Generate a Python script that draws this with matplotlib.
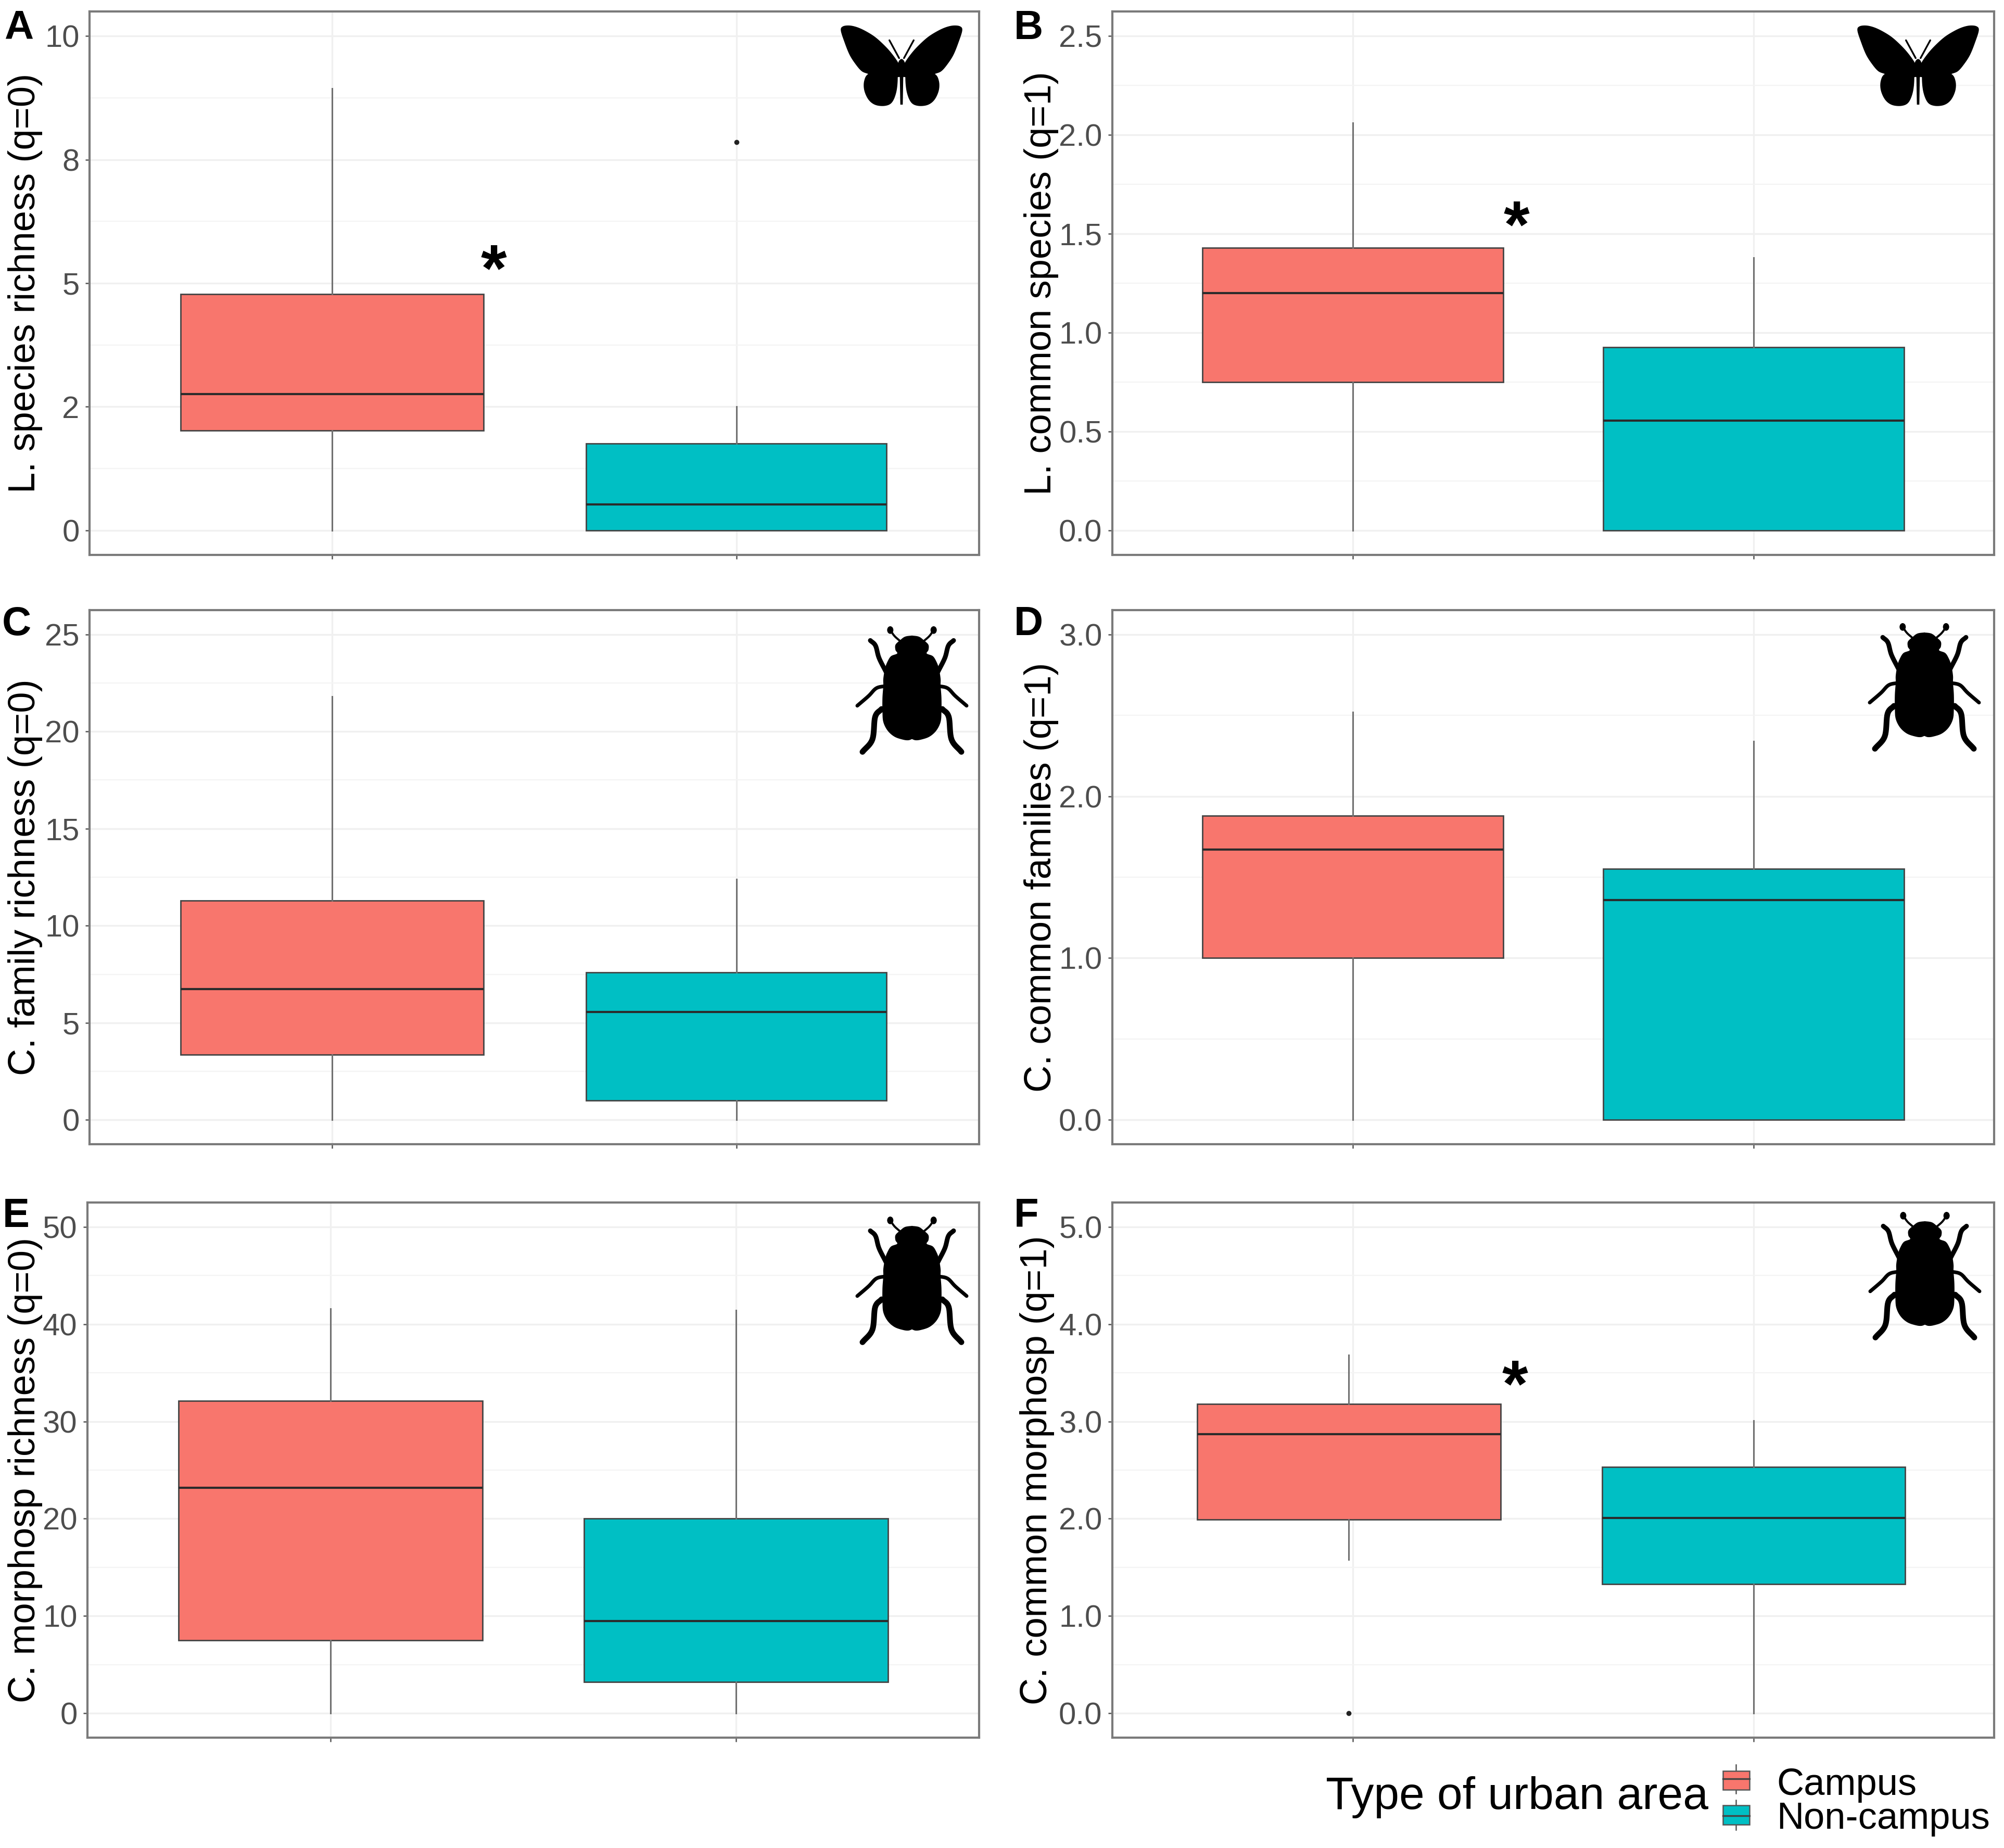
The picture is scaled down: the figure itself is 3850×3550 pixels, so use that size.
import numpy as np
import matplotlib
matplotlib.use("Agg")
import matplotlib.pyplot as plt
from matplotlib.patches import Polygon, Rectangle, Circle, Ellipse

plt.rcParams['font.family'] = ['Liberation Sans', 'DejaVu Sans']

W, H = 3850, 3550
CAMPUS = '#F8766D'
NONCAMPUS = '#00BFC4'

# box stats: [whisker low, q1, median, q3, whisker high]
A_campus = [0, 2.02, 2.76, 4.78, 8.94]
A_non = [0, 0, 0.52, 1.76, 2.5]
B_campus = [0, 0.75, 1.2, 1.43, 2.06]
B_non = [0, 0, 0.555, 0.925, 1.38]
C_campus = [0, 3.36, 6.73, 11.3, 21.8]
C_non = [0, 1.0, 5.55, 7.6, 12.4]
D_campus = [0, 1.0, 1.67, 1.88, 2.52]
D_non = [0, 0, 1.36, 1.55, 2.34]
E_campus = [0, 7.5, 23.2, 32.1, 41.6]
E_non = [0, 3.2, 9.5, 20.0, 41.4]
F_campus = [1.58, 1.99, 2.87, 3.18, 3.68]
F_non = [0, 1.33, 2.01, 2.53, 3.01]

# outliers
A_non_out = [7.86]
F_campus_out = [0.0]

A_ticks, A_labels = [0, 2.5, 5, 7.5, 10], ['0', '2', '5', '8', '10']
B_ticks, B_labels = [0, .5, 1, 1.5, 2, 2.5], ['0.0', '0.5', '1.0', '1.5', '2.0', '2.5']
C_ticks, C_labels = [0, 5, 10, 15, 20, 25], ['0', '5', '10', '15', '20', '25']
D_ticks, D_labels = [0, 1, 2, 3], ['0.0', '1.0', '2.0', '3.0']
E_ticks, E_labels = [0, 10, 20, 30, 40, 50], ['0', '10', '20', '30', '40', '50']
F_ticks, F_labels = [0, 1, 2, 3, 4, 5], ['0.0', '1.0', '2.0', '3.0', '4.0', '5.0']

ylabels = ['L. species richness (q=0)', 'L. common species (q=1)',
           'C. family richness (q=0)', 'C. common families (q=1)',
           'C. morphosp richness (q=0)', 'C. common morphosp (q=1)']
letters = ['A', 'B', 'C', 'D', 'E', 'F']

panels = [
    dict(c=A_campus, n=A_non, cout=[], nout=A_non_out, t=A_ticks, l=A_labels, ylim=(-.5, 10.5), w=.75, wn=.743),
    dict(c=B_campus, n=B_non, cout=[], nout=[], t=B_ticks, l=B_labels, ylim=(-.125, 2.625), w=.75, wn=.75),
    dict(c=C_campus, n=C_non, cout=[], nout=[], t=C_ticks, l=C_labels, ylim=(-1.25, 26.25), w=.75, wn=.743),
    dict(c=D_campus, n=D_non, cout=[], nout=[], t=D_ticks, l=D_labels, ylim=(-.15, 3.15), w=.75, wn=.75),
    dict(c=E_campus, n=E_non, cout=[], nout=[], t=E_ticks, l=E_labels, ylim=(-2.5, 52.5), w=.75, wn=.75),
    dict(c=F_campus, n=F_non, cout=F_campus_out, nout=[], t=F_ticks, l=F_labels, ylim=(-.25, 5.25), w=.757, wn=.757),
]
lefts = [172, 2137, 172, 2137, 168, 2137]
rights = [1881, 3831, 1881, 3831, 1881, 3831]
rows = [(22, 1066), (1172, 2198), (2310, 3338)]
label_x = [49, 2001, 49, 2001, 49, 1993]
letter_x = [8, 1948, 4, 1948, 5, 1948]
letter_base = [75, 75, 1220, 1220, 2357, 2357]

fig = plt.figure(figsize=(W / 100, H / 100), dpi=100, facecolor='white')

for i, p in enumerate(panels):
    x0, x1 = lefts[i], rights[i]
    y0, y1 = rows[i // 2]
    ax = fig.add_axes([x0 / W, 1 - y1 / H, (x1 - x0) / W, (y1 - y0) / H])
    ax.set_xlim(0.4, 2.6)
    ax.set_ylim(*p['ylim'])
    ax.set_axisbelow(True)
    for s in ax.spines.values():
        s.set_color('#7A7A7A')
        s.set_linewidth(3)
    t = np.array(p['t'], float)
    minor = (t[:-1] + t[1:]) / 2
    ax.set_yticks(t, p['l'])
    ax.set_yticks(minor, minor=True)
    ax.set_xticks([1, 2], ['', ''])
    ax.tick_params(axis='y', which='major', labelsize=43, labelcolor='#4D4D4D', color='#555555',
                   length=6, width=1.8, pad=8)
    ax.tick_params(axis='y', which='minor', length=0)
    ax.tick_params(axis='x', length=6, width=1.8, color='#555555')
    ax.grid(True, which='major', color='#F0F0F0', lw=2.4)
    ax.grid(True, which='minor', axis='y', color='#F4F4F4', lw=1.6)

    stats = []
    for v, out in ((p['c'], p['cout']), (p['n'], p['nout'])):
        stats.append(dict(whislo=v[0], q1=v[1], med=v[2], q3=v[3], whishi=v[4], fliers=out))
    pos = [0.99, 2.0] if i == 5 else [1, 2]
    bp = ax.bxp(stats, positions=pos, widths=[p['w'], p['wn']], patch_artist=True, showcaps=False,
                manage_ticks=False,
                boxprops=dict(edgecolor='#444444', linewidth=2.0),
                medianprops=dict(color='#2B2B2B', linewidth=3.0),
                whiskerprops=dict(color='#707070', linewidth=2.2),
                flierprops=dict(marker='o', markersize=6, markerfacecolor='#222222',
                                markeredgecolor='#222222'))
    bp['boxes'][0].set_facecolor(CAMPUS)
    bp['boxes'][1].set_facecolor(NONCAMPUS)
    ax.set_ylabel(ylabels[i], fontsize=52, color='black')
    ax.yaxis.set_label_coords((label_x[i] - x0) / (x1 - x0), 0.5)
    ax.yaxis.label.set_verticalalignment('center')

# overlay in reference pixel coordinates for annotations, icons and legend
ov = fig.add_axes([0, 0, 1, 1], facecolor='none', zorder=10)
ov.set_xlim(0, W)
ov.set_ylim(H, 0)
ov.axis('off')


def smooth(pts, n=10):
    pts = np.array(pts, float)
    m = len(pts)
    res = []
    for k in range(m):
        p0, p1, p2, p3 = pts[(k - 1) % m], pts[k], pts[(k + 1) % m], pts[(k + 2) % m]
        for u in np.linspace(0, 1, n, endpoint=False):
            res.append(0.5 * (2 * p1 + (p2 - p0) * u + (2 * p0 - 5 * p1 + 4 * p2 - p3) * u ** 2
                              + (3 * p1 - p0 - 3 * p2 + p3) * u ** 3))
    return np.array(res)


def smooth_open(pts):
    pts = np.array(pts, float)
    ext = np.vstack([2 * pts[0] - pts[1], pts, 2 * pts[-1] - pts[-2]])
    res = []
    for k in range(1, len(ext) - 2):
        p0, p1, p2, p3 = ext[k - 1], ext[k], ext[k + 1], ext[k + 2]
        for u in np.linspace(0, 1, 10):
            res.append(0.5 * (2 * p1 + (p2 - p0) * u + (2 * p0 - 5 * p1 + 4 * p2 - p3) * u ** 2
                              + (3 * p1 - p0 - 3 * p2 + p3) * u ** 3))
    return np.array(res)


wing_up = [(-350, 175), (-338, 152), (-300, 147), (-255, 157), (-205, 180), (-150, 215), (-95, 265),
           (-55, 310), (-20, 360), (-5, 400), (-5, 440), (-75, 445), (-165, 435), (-195, 425),
           (-230, 410), (-265, 370), (-300, 315), (-330, 240)]
wing_low = [(-190, 425), (-215, 465), (-215, 520), (-190, 575), (-150, 605), (-95, 610), (-55, 590),
            (-30, 530), (-22, 450), (-30, 395), (-110, 400)]


def butterfly(cx, cy):
    for sgn in (-1, 1):
        for shape in (wing_up, wing_low):
            q = smooth(shape)
            ov.add_patch(Polygon(np.c_[cx + sgn * q[:, 0] / 3, cy + (q[:, 1] - 378) / 3],
                                 fc='black', ec='none'))
        ov.plot([cx + sgn * 14 / 3, cx + sgn * 70 / 3], [cy + (335 - 378) / 3, cy + (232 - 378) / 3],
                color='black', lw=2.4, solid_capstyle='round')
    ov.add_patch(Ellipse((cx, cy + (395 - 378) / 3), 48 / 3, 110 / 3, fc='black', ec='none'))
    ov.add_patch(Polygon([(cx - 10 / 3, cy + 20), (cx + 10 / 3, cy + 20),
                          (cx + 7 / 3, cy + (603 - 378) / 3), (cx - 7 / 3, cy + (603 - 378) / 3)],
                         fc='black', ec='none'))


body_half = [(0, 122), (40, 128), (70, 150), (95, 175), (95, 205), (85, 225), (120, 240), (140, 270),
             (155, 310), (165, 370), (165, 410), (170, 480), (170, 560), (165, 620), (140, 670),
             (100, 705), (50, 722), (20, 725), (0, 718)]
# leg centre lines and their thickness in full-size pixels
legs = [([(-70, 152), (-100, 125), (-122, 95)], 4),
        ([(-150, 330), (-190, 250), (-210, 180), (-240, 150)], 9),
        ([(-150, 412), (-205, 425), (-250, 470), (-315, 526)], 7),
        ([(-175, 545), (-212, 590), (-228, 720), (-285, 792)], 11)]


def beetle(cx, cy):
    half = np.array(body_half, float)
    outline = np.vstack([half, (half * [-1, 1])[::-1]])
    q = smooth(outline, 6)
    ov.add_patch(Polygon(np.c_[cx + q[:, 0] / 3, cy + (q[:, 1] - 437) / 3], fc='black', ec='none'))
    for sgn in (-1, 1):
        for pts, w in legs:
            q = smooth_open(pts)
            ov.plot(cx + sgn * q[:, 0] / 3, cy + (q[:, 1] - 437) / 3, color='black',
                    lw=w * 0.72, solid_capstyle='round', solid_joinstyle='round')
        ov.add_patch(Ellipse((cx + sgn * 125 / 3, cy + (90 - 437) / 3), 36 / 3, 44 / 3, fc='black', ec='none'))


butterfly(1732, 126)
butterfly(3685, 126)
beetle(1752, 1326)
beetle(3697, 1320)
beetle(1752, 2460)
beetle(3698, 2451)

for i, s in enumerate(letters):
    ov.text(letter_x[i], letter_base[i], s, fontsize=56, fontweight='bold', ha='left', va='baseline')

# significance marks
for x, y in [(948, 558), (2913, 474), (2910, 2701)]:
    ov.text(x, y, '*', fontsize=92, fontweight='bold', ha='center', va='baseline', color='black')

# legend
ov.text(2547, 3475, 'Type of urban area', fontsize=63, ha='left', va='baseline')
for (y_top, y_med, y_bot, wt, wb, col, lab, base) in [
        (3402, 3417, 3438, 3390, 3445, CAMPUS, 'Campus', 3448),
        (3468, 3488, 3505, 3458, 3515, NONCAMPUS, 'Non-campus', 3513)]:
    ov.plot([3335, 3335], [wt, wb], color='#555555', lw=1.8, zorder=1)
    ov.add_patch(Rectangle((3310, y_top), 51, y_bot - y_top, fc=col, ec='#555555', lw=1.8, zorder=2))
    ov.plot([3310, 3361], [y_med, y_med], color='#444444', lw=2.4, zorder=3)
    ov.text(3413, base, lab, fontsize=52, ha='left', va='baseline')

fig.savefig('out.png', dpi=100, facecolor='white')
